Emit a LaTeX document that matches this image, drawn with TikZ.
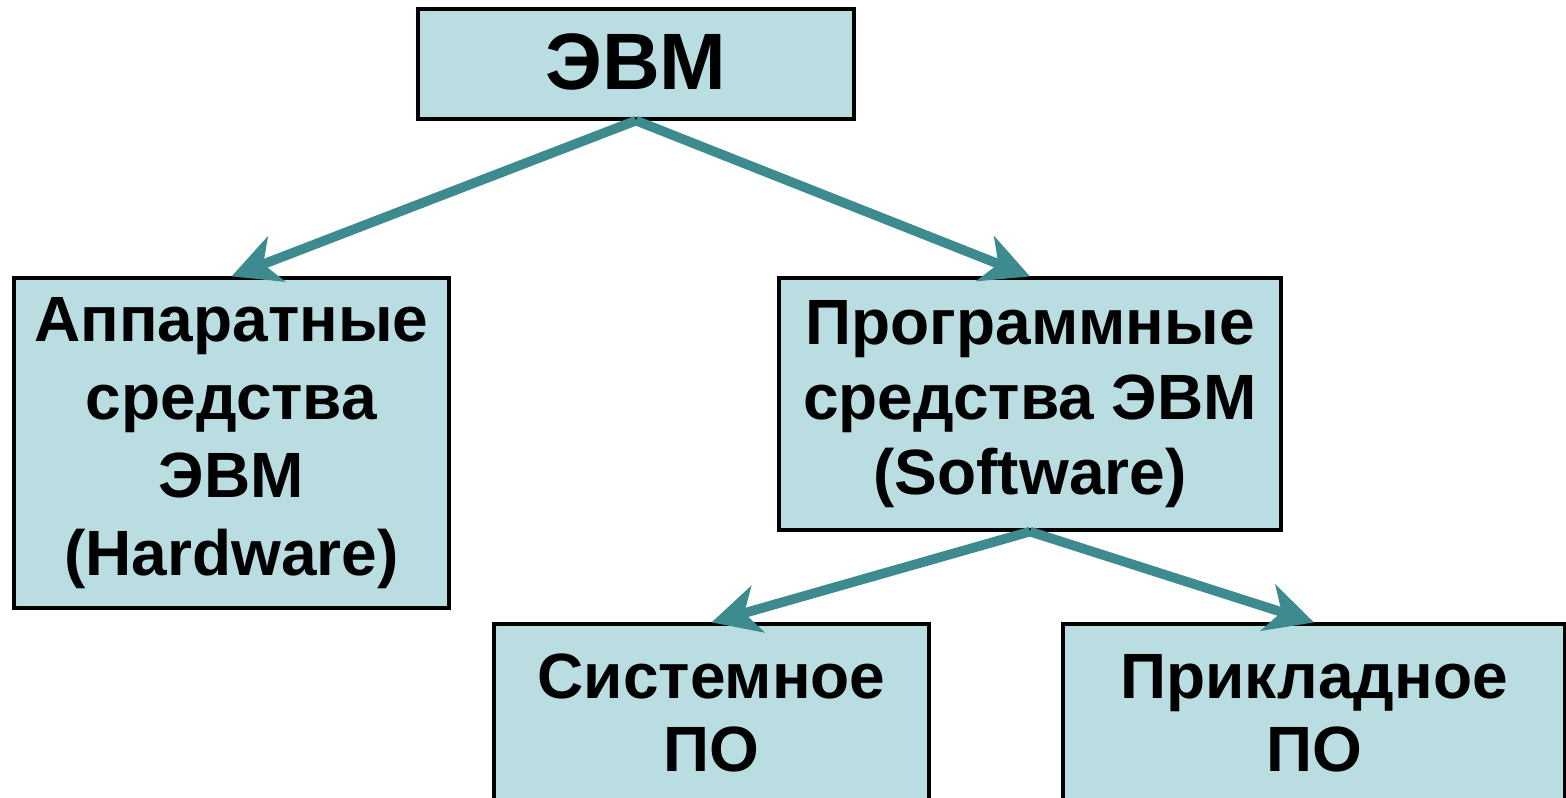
\documentclass[tikz,border=0pt]{standalone}
\usepackage{fontspec}
\setmainfont{Liberation Sans}
\usetikzlibrary{arrows.meta}
\definecolor{boxfill}{HTML}{B9DDE1}
\definecolor{arrowcol}{HTML}{3E8B8F}
\begin{document}
\begin{tikzpicture}[x=0.5pt,y=-0.5pt,
  box/.style={draw=black,line width=1.6pt,fill=boxfill,inner sep=0pt,align=center,
    font=\fontsize{32}{39}\selectfont\bfseries},
  conn/.style={draw=arrowcol,line width=4.8pt,-{Stealth[length=24pt,width=24pt,inset=7pt]}}]
\useasboundingbox (0,0) rectangle (1566,797);
\node[box,minimum width=436*0.5pt,minimum height=110*0.5pt,font=\fontsize{40}{48}\selectfont\bfseries] (ewm) at (636,64) {\raisebox{2pt}{ЭВМ}};
\node[box,minimum width=435*0.5pt,minimum height=330*0.5pt] (hw) at (231.5,443) {Аппаратные\\средства\\ЭВМ\\(Hardware)};
\node[box,minimum width=502*0.5pt,minimum height=252*0.5pt,font=\fontsize{32}{37.5}\selectfont\bfseries] (sw) at (1030,404) {Программные\\средства ЭВМ\\(Software)};
\node[box,minimum width=435*0.5pt,minimum height=178*0.5pt,font=\fontsize{32}{36.5}\selectfont\bfseries] (sys) at (711.5,713) {Системное\\ПО};
\node[box,minimum width=502*0.5pt,minimum height=178*0.5pt,font=\fontsize{32}{36.5}\selectfont\bfseries] (app) at (1314,713) {Прикладное\\ПО};
\draw[conn] (ewm.south) -- (hw.north);
\draw[conn] (ewm.south) -- (sw.north);
\draw[conn] (sw.south) -- (sys.north);
\draw[conn] (sw.south) -- (app.north);
\end{tikzpicture}
\end{document}
